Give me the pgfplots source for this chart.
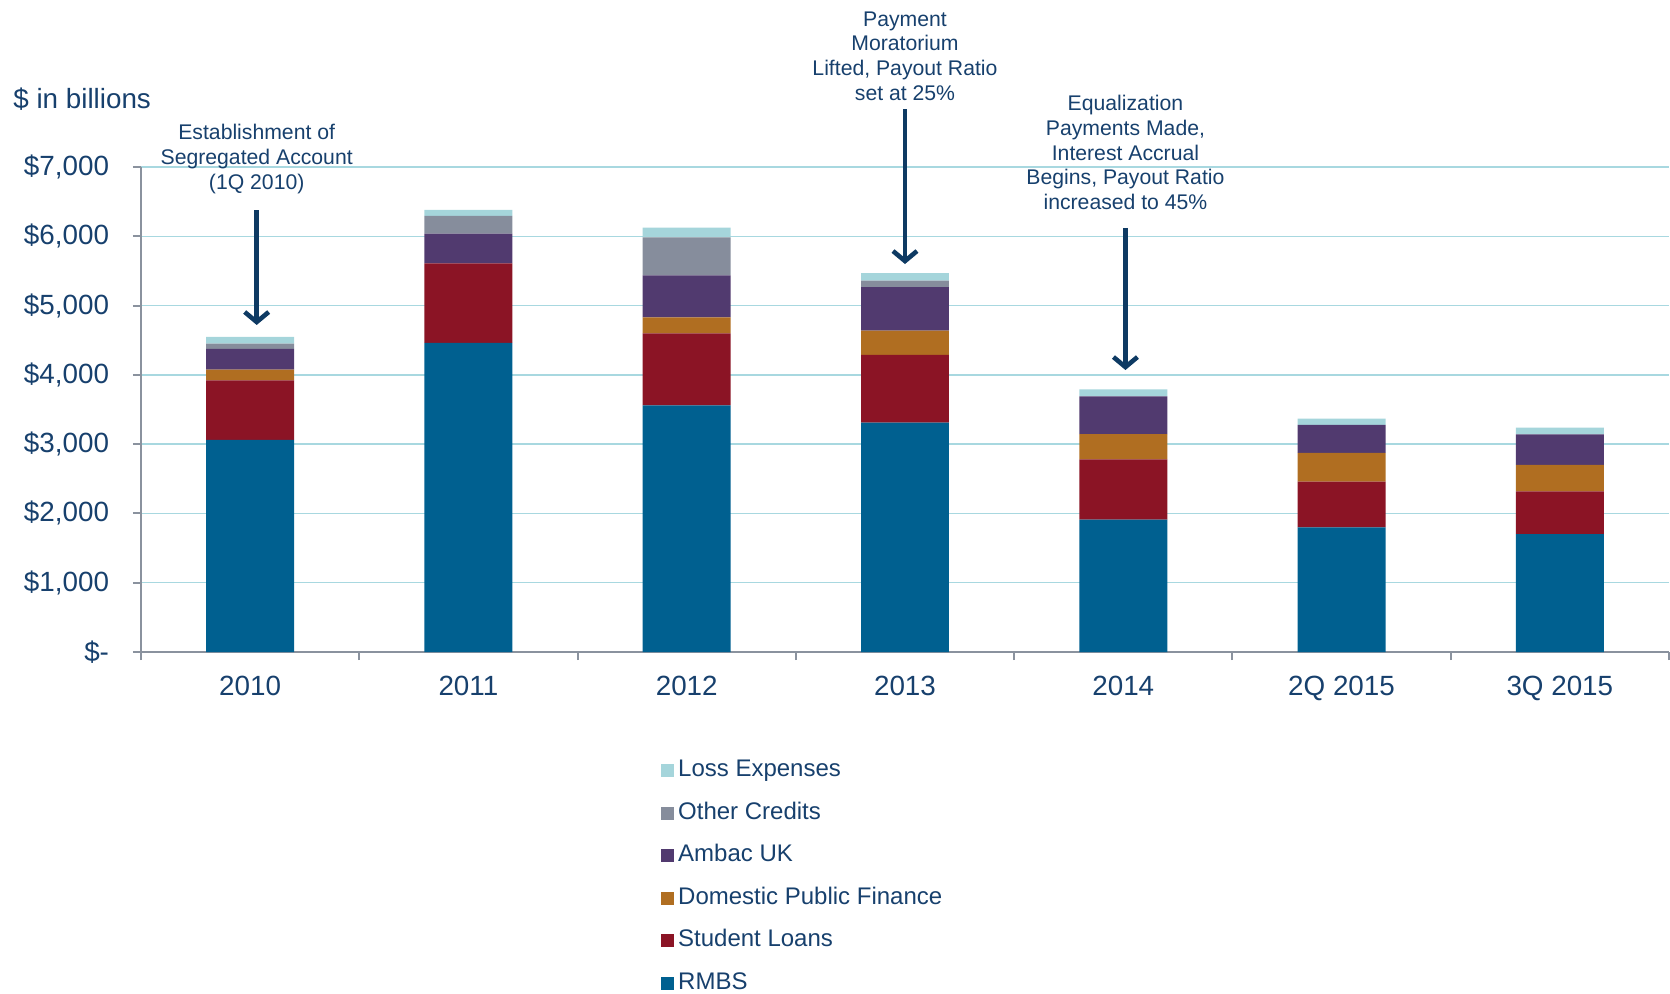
\documentclass[border=0pt]{standalone}
\usepackage{fontspec}
\setmainfont{Liberation Sans}
\usepackage{pgfplots}
\pgfplotsset{compat=1.18}
\usetikzlibrary{arrows.meta}

\definecolor{txt}{HTML}{17406D}
\definecolor{arr}{HTML}{0E3A63}
\definecolor{axgray}{HTML}{8A929E}
\definecolor{gridblue}{HTML}{A8D8E0}
\definecolor{rmbs}{HTML}{006090}
\definecolor{student}{HTML}{8B1425}
\definecolor{dpf}{HTML}{B06E21}
\definecolor{ambac}{HTML}{513A6F}
\definecolor{other}{HTML}{868D9C}
\definecolor{loss}{HTML}{A5D5DB}

\begin{document}
\begin{tikzpicture}
\useasboundingbox (0,0) rectangle (835pt,-497pt);
\node[anchor=west, inner sep=0pt, text=txt, font=\fontsize{13.9}{16}\selectfont] at (6.5pt,-49.5pt) {\$ in billions};
\begin{axis}[
    at={(70.5pt,-326pt)}, anchor=south west,
    width=764pt, height=242.5pt, scale only axis,
    ybar stacked, bar width=0.403,
    xmin=-0.5, xmax=6.5, ymin=0, ymax=7000,
    xtick={0,...,6},
    xticklabels={2010,2011,2012,2013,2014,2Q 2015,3Q 2015},
    minor xtick={-0.5,0.5,...,6.5},
    ytick={0,1000,...,7000},
    yticklabels={\$-,{\$1,000},{\$2,000},{\$3,000},{\$4,000},{\$5,000},{\$6,000},{\$7,000}},
    axis lines=left,
    axis line style={-, draw=axgray, line width=1pt},
    tick align=outside, major tick length=4pt, minor tick length=4pt,
    tick style={draw=axgray, line width=1pt},
    every major x tick/.append style={draw=none},
    ymajorgrids, grid style={gridblue, line width=0.75pt},
    ticklabel style={text=txt, font=\fontsize{13.9}{16}\selectfont},
    xticklabel style={inner sep=0pt, yshift=-7.8pt},
    yticklabel style={inner sep=0pt, xshift=-11.8pt},
    clip=false,
    reverse legend,
    legend cell align=left,
    legend image code/.code={\fill[#1] (0pt,-3.2pt) rectangle (6.4pt,3.2pt);},
    legend style={at={(0.3403,-0.221)}, anchor=north west, draw=none, fill=none,
        inner sep=0pt, text=txt, font=\fontsize{12}{14}\selectfont, row sep=10.15pt,
        nodes={inner ysep=0pt, inner xsep=2pt, text height=8.6pt, text depth=2.5pt}},
]
\addplot[fill=rmbs, draw=none] coordinates {(0,3060) (1,4460) (2,3560) (3,3310) (4,1910) (5,1800) (6,1700)};
\addplot[fill=student, draw=none] coordinates {(0,860) (1,1150) (2,1040) (3,980) (4,870) (5,660) (6,620)};
\addplot[fill=dpf, draw=none] coordinates {(0,155) (1,0) (2,230) (3,350) (4,365) (5,415) (6,380)};
\addplot[fill=ambac, draw=none] coordinates {(0,300) (1,430) (2,605) (3,625) (4,545) (5,405) (6,440)};
\addplot[fill=other, draw=none] coordinates {(0,75) (1,255) (2,550) (3,95) (4,0) (5,0) (6,0)};
\addplot[fill=loss, draw=none] coordinates {(0,100) (1,85) (2,140) (3,110) (4,100) (5,90) (6,100)};
\legend{RMBS,Student Loans,Domestic Public Finance,Ambac UK,Other Credits,Loss Expenses}

\tikzset{annarrow/.style={draw=arr, line width=2.3pt, -{Straight Barb[length=5pt,width=12pt]}},
         ann/.style={align=center, text=txt, inner sep=0pt, font=\fontsize{10.6}{12.3}\selectfont}}
\draw[annarrow] (axis cs:0.03,6379) -- (axis cs:0.03,4720);
\node[ann] at (axis cs:0.03,7115) {Establishment of\\Segregated Account\\(1Q 2010)};
\draw[annarrow] (axis cs:3,7837) -- (axis cs:3,5600);
\node[ann] at (axis cs:3,8602) {Payment\\Moratorium\\Lifted, Payout Ratio\\set at 25\%};
\draw[annarrow] (axis cs:4.01,6120) -- (axis cs:4.01,4070);
\node[ann] at (axis cs:4.01,7209) {Equalization\\Payments Made,\\Interest Accrual\\Begins, Payout Ratio\\increased to 45\%};
\end{axis}
\end{tikzpicture}
\end{document}
